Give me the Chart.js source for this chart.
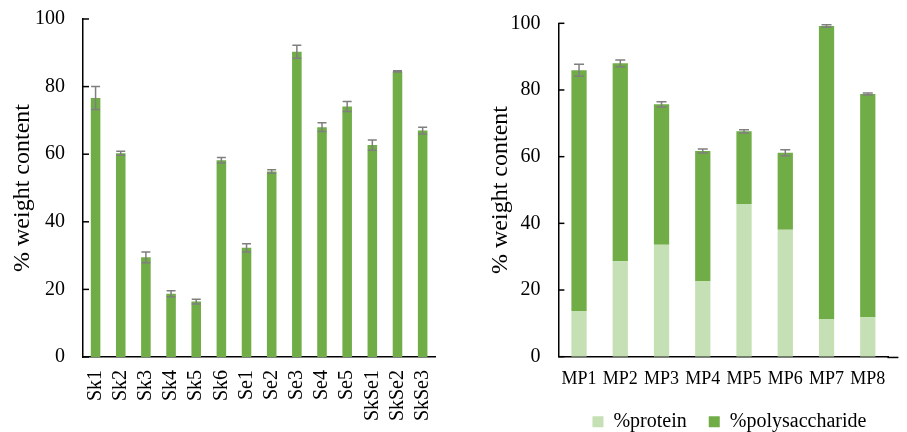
<!DOCTYPE html>
<html>
<head>
<meta charset="utf-8">
<script src="https://cdn.jsdelivr.net/npm/chart.js@4"></script>
<style>
  html, body { margin: 0; padding: 0; background: #fff; }
  #wrap { position: relative; width: 907px; height: 432px; overflow: hidden; }
  #left { position: absolute; left: 0; top: 0; }
  #right { position: absolute; left: 475px; top: 0; }
</style>
</head>
<body>
<div id="wrap">
  <canvas id="left" width="460" height="432"></canvas>
  <canvas id="right" width="432" height="432"></canvas>
</div>
<script>
// ---- Extract content (left panel) ----
const extractLabels = ['Sk1', 'Sk2', 'Sk3', 'Sk4', 'Sk5', 'Sk6', 'Se1', 'Se2', 'Se3', 'Se4', 'Se5', 'SkSe1', 'SkSe2', 'SkSe3'];
const extractValues = [76.6, 60.3, 29.5, 18.7, 16.4, 58.2, 32.3, 54.9, 90.3, 68.0, 74.1, 62.7, 84.5, 67.0];
const extractErrors = [3.4, 0.6, 1.6, 0.9, 0.7, 0.8, 1.2, 0.5, 1.9, 1.3, 1.5, 1.5, 0.2, 1.0];

// ---- Composition of MP fractions (right panel) ----
const mpLabels = ['MP1', 'MP2', 'MP3', 'MP4', 'MP5', 'MP6', 'MP7', 'MP8'];
const proteinValues = [13.7, 28.6, 33.6, 22.7, 45.8, 38.1, 11.3, 11.8];
const polysaccharideValues = [72.2, 59.4, 42.1, 39.0, 21.8, 23.1, 87.9, 67.0];
const totalErrors = [1.8, 1.0, 0.8, 0.6, 0.5, 0.9, 0.4, 0.3];

const yTicks = { min: 0, max: 100, step: 20 };

const GREEN = '#70AD47';
const LIGHT_GREEN = '#C5E0B4';
const ERR_GREY = '#7F7F7F';

Chart.defaults.font.family = "'Liberation Serif', 'Times New Roman', serif";
Chart.defaults.color = '#000';

// Error bars drawn on top of the (stacked) bar tops
const errorBars = {
  id: 'errorBars',
  afterDatasetsDraw(chart, args, opts) {
    const { ctx } = chart;
    const ys = chart.scales.y;
    const meta = chart.getDatasetMeta(chart.data.datasets.length - 1);
    ctx.save();
    ctx.strokeStyle = opts.color;
    ctx.lineWidth = opts.width;
    meta.data.forEach((bar, i) => {
      let top = 0;
      chart.data.datasets.forEach(ds => { top += ds.data[i]; });
      const e = opts.errors[i];
      const x = bar.x;
      const y1 = ys.getPixelForValue(top + e);
      const y2 = ys.getPixelForValue(top - e);
      ctx.beginPath();
      ctx.moveTo(x, y1); ctx.lineTo(x, y2);
      ctx.moveTo(x - opts.cap, y1); ctx.lineTo(x + opts.cap, y1);
      ctx.moveTo(x - opts.cap, y2); ctx.lineTo(x + opts.cap, y2);
      ctx.stroke();
    });
    ctx.restore();
  }
};

// Inward tick marks on the value axis, plus optional run-out of the category axis line
const axisMarks = {
  id: 'axisMarks',
  afterDraw(chart, args, opts) {
    const { ctx, chartArea } = chart;
    const ys = chart.scales.y;
    ctx.save();
    ctx.strokeStyle = '#000';
    ctx.lineWidth = opts.width;
    ys.ticks.forEach(t => {
      const py = ys.getPixelForValue(t.value);
      ctx.beginPath();
      ctx.moveTo(chartArea.left, py);
      ctx.lineTo(chartArea.left + opts.len, py);
      ctx.stroke();
    });
    if (opts.extend) {
      ctx.beginPath();
      ctx.moveTo(chartArea.right - 1, chartArea.bottom + opts.width / 2);
      ctx.lineTo(chartArea.right + opts.extend, chartArea.bottom + opts.width / 2);
      ctx.stroke();
    }
    ctx.restore();
  }
};

// Shift the legend block after layout
const legendNudge = {
  id: 'legendNudge',
  afterLayout(chart, args, opts) {
    const l = chart.legend;
    if (!l) return;
    l.left += opts.dx; l.right += opts.dx;
    l.top += opts.dy; l.bottom += opts.dy;
  }
};

function valueAxis(widthPx, titlePad) {
  return {
    min: yTicks.min,
    max: yTicks.max,
    ticks: { stepSize: yTicks.step, padding: 18, font: { size: 20 }, color: '#000' },
    grid: { display: false, drawTicks: false },
    border: { color: '#000', width: 1.5 },
    title: {
      display: true,
      text: '% weight content',
      font: { size: 24 },
      color: '#000',
      padding: { top: titlePad, bottom: 0 }
    },
    afterFit(s) { s.width = widthPx; s.paddingTop = 0; s.paddingBottom = 0; }
  };
}

new Chart(document.getElementById('left'), {
  type: 'bar',
  data: {
    labels: extractLabels,
    datasets: [{
      label: 'content',
      data: extractValues,
      backgroundColor: GREEN,
      borderWidth: 0,
      barPercentage: 0.38,
      categoryPercentage: 1.0
    }]
  },
  options: {
    responsive: false,
    animation: false,
    layout: { padding: { top: 19, right: 10, left: 0, bottom: 0 } },
    plugins: {
      legend: { display: false },
      tooltip: { enabled: false },
      errorBars: { errors: extractErrors, color: ERR_GREY, width: 1.5, cap: 4.5 },
      axisMarks: { len: 6, width: 1.5, extend: 0 }
    },
    scales: {
      x: {
        grid: { display: false, drawTicks: false },
        border: { color: '#000', width: 1.5 },
        ticks: { minRotation: 90, maxRotation: 90, padding: 13, autoSkip: false, font: { size: 20 }, color: '#000' },
        afterFit(s) { s.height = 75; }
      },
      y: valueAxis(83, 8.6)
    }
  },
  plugins: [errorBars, axisMarks]
});

new Chart(document.getElementById('right'), {
  type: 'bar',
  data: {
    labels: mpLabels,
    datasets: [
      {
        label: '%protein',
        data: proteinValues,
        backgroundColor: LIGHT_GREEN,
        borderWidth: 0,
        barPercentage: 0.37,
        categoryPercentage: 1.0
      },
      {
        label: '%polysaccharide',
        data: polysaccharideValues,
        backgroundColor: GREEN,
        borderWidth: 0,
        barPercentage: 0.37,
        categoryPercentage: 1.0
      }
    ]
  },
  options: {
    responsive: false,
    animation: false,
    layout: { padding: { top: 23.3, right: 18.6, left: 0, bottom: -9.7 } },
    plugins: {
      legend: {
        display: true,
        position: 'bottom',
        fullSize: false,
        labels: { boxWidth: 11, boxHeight: 11, padding: 22, font: { size: 20 }, color: '#000' }
      },
      tooltip: { enabled: false },
      errorBars: { errors: totalErrors, color: ERR_GREY, width: 1.5, cap: 5 },
      axisMarks: { len: 6, width: 1.5, extend: 10 },
      legendNudge: { dx: 6, dy: 0 }
    },
    scales: {
      x: {
        stacked: true,
        grid: { display: false, drawTicks: false },
        border: { color: '#000', width: 1.5 },
        ticks: { maxRotation: 0, padding: 12, autoSkip: false, font: { size: 18 }, color: '#000' },
        afterFit(s) { s.height = 33; }
      },
      y: Object.assign(valueAxis(83.4, 11.6), { stacked: true })
    }
  },
  plugins: [errorBars, axisMarks, legendNudge]
});
</script>
</body>
</html>
